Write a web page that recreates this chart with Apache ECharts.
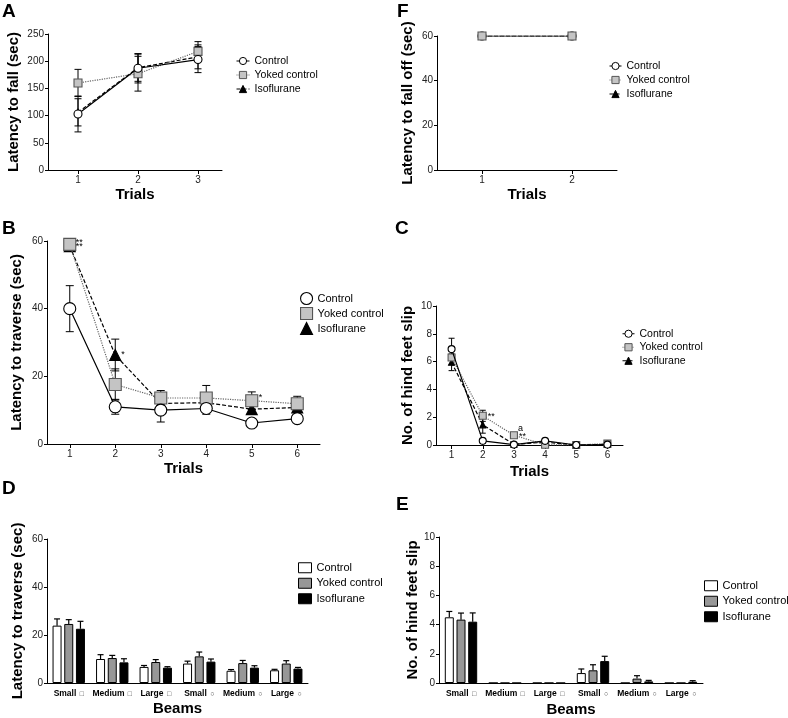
<!DOCTYPE html>
<html><head><meta charset="utf-8">
<script src="https://cdn.jsdelivr.net/npm/echarts@6/dist/echarts.min.js"></script>
<style>html,body{margin:0;padding:0;background:#fff}#c{width:788px;height:718px}</style>
</head><body><div id="c"></div>
<script>
const FONT = "'Liberation Sans', Arial, Helvetica, sans-serif";
const groups = ['Control', 'Yoked control', 'Isoflurane'];

// ---- Panel A : rotarod, latency to fall
const trialsA = [1, 2, 3];
const aControl = [103, 187, 203], aControlErr = [33, 27, 24];
const aYoked = [160, 177, 218], aYokedErr = [25, 32, 18];
const aIso = [106, 188, 208], aIsoErr = [25, 25, 22];

// ---- Panel F : latency to fall off
const trialsF = [1, 2];
const fControl = [60, 60], fYoked = [60, 60], fIso = [60, 60];

// ---- Panel B : latency to traverse
const trialsB = [1, 2, 3, 4, 5, 6];
const bControl = [40, 11, 10, 10.5, 6.2, 7.5], bControlErr = [6.8, 2.2, 3.5, 1.7, 0.6, 0.8];
const bYoked = [59, 17.6, 13.6, 13.6, 12.8, 11.9], bYokedErr = [0.5, 4.6, 2.2, 3.7, 2.6, 2.2];
const bIso = [58.5, 26.3, 12, 12.2, 10.3, 10.8], bIsoErr = [0.5, 4.7, 1, 1, 1.2, 1.5];
const bNoteTrial = [1, 1, 2, 5];
const bNoteValue = [59, 59, 26.3, 12.8];
const bNoteText = ['**', '**', '*', '*'];

// ---- Panel C : hind feet slips
const trialsC = [1, 2, 3, 4, 5, 6];
const cControl = [6.9, 0.3, 0.03, 0.3, 0, 0.03], cControlErr = [0.78, 0.15, 0, 0.1, 0, 0];
const cYoked = [6.3, 2.1, 0.7, 0.02, 0, 0.1], cYokedErr = [0.5, 0.4, 0.1, 0, 0, 0];
const cIso = [5.95, 1.45, 0.05, 0.2, 0, 0.05], cIsoErr = [0.6, 0.6, 0, 0, 0, 0];
const cNoteTrial = [2, 3, 3];
const cNoteValue = [2.1, 0.7, 0.7];
const cNoteText = ['**', 'a', '**'];

// ---- Panels D & E : beams
const beams = ['Small □', 'Medium □', 'Large □', 'Small ○', 'Medium ○', 'Large ○'];
const dControl = [23.9, 10, 6.7, 8.1, 5.1, 5.3], dControlErr = [2.8, 1.8, 0.6, 1, 0.5, 0.4];
const dYoked = [24.6, 10.4, 8.75, 11.1, 8.3, 8.1], dYokedErr = [1.8, 1.1, 1, 1.8, 1.1, 1.2];
const dIso = [22.6, 8.6, 6.4, 8.9, 6.4, 6], dIsoErr = [3.1, 1.5, 0.4, 1.1, 0.8, 0.5];
const eControl = [4.5, 0, 0, 0.68, 0, 0], eControlErr = [0.4, 0, 0, 0.28, 0, 0];
const eYoked = [4.34, 0, 0, 0.87, 0.3, 0], eYokedErr = [0.45, 0, 0, 0.38, 0.2, 0];
const eIso = [4.2, 0, 0, 1.5, 0.11, 0.09], eIsoErr = [0.6, 0, 0, 0.33, 0.07, 0.07];

// ---------------- styles
const lineStyles = {
  'Control': { symbol: 'circle', fill: '#fff', border: '#000', z: 4, line: { color: '#000', width: 1.2, type: 'solid' } },
  'Yoked control': { symbol: 'rect', fill: '#c4c4c4', border: '#555', z: 3, line: { color: '#666', width: 1.2, type: 'dotted' } },
  'Isoflurane': { symbol: 'triangle', fill: '#000', border: '#000', z: 2, line: { color: '#000', width: 1.2, type: [4, 2] } }
};
const barFill = { 'Control': '#fff', 'Yoked control': '#979797', 'Isoflurane': '#000' };

const grids = [
  { left: 48, top: 34, width: 174, height: 136 },   // A
  { left: 437, top: 36, width: 180, height: 134 },  // F
  { left: 47, top: 241, width: 273, height: 203 },  // B
  { left: 436, top: 306, width: 187, height: 139 }, // C
  { left: 47, top: 539, width: 261, height: 144 },  // D
  { left: 439, top: 537, width: 264, height: 146 }  // E
];

const tickLabel = { fontFamily: FONT, fontSize: 10, color: '#222' };
const axisNameStyle = { fontFamily: FONT, fontSize: 15, fontWeight: 'bold', color: '#000' };
const axLine = { show: true, lineStyle: { color: '#000', width: 1 } };
const axTick = { show: true, length: 3, lineStyle: { color: '#000', width: 1 } };

function valueX(gi, max, ticks, nameGap) {
  return {
    type: 'value', gridIndex: gi, min: 0.5, max: max,
    axisLine: axLine, splitLine: { show: false },
    axisTick: Object.assign({}, axTick, { length: 4, customValues: ticks }),
    axisLabel: Object.assign({}, tickLabel, { customValues: ticks, margin: 5 }),
    name: 'Trials', nameLocation: 'middle', nameGap: nameGap, nameTextStyle: axisNameStyle
  };
}
function catX(gi, nameGap) {
  return {
    type: 'category', gridIndex: gi, data: beams,
    axisLine: axLine, axisTick: { show: false },
    axisLabel: {
      interval: 0, margin: 5,
      formatter: v => { const p = v.split(' '); return '{b|' + p[0] + '} {s|' + p[1] + '}'; },
      rich: {
        b: { fontFamily: FONT, fontSize: 8.5, fontWeight: 'bold', color: '#000' },
        s: { fontFamily: FONT, fontSize: 7, color: '#444' }
      }
    },
    name: 'Beams', nameLocation: 'middle', nameGap: nameGap, nameTextStyle: axisNameStyle
  };
}
function valueY(gi, max, interval, name, nameGap) {
  return {
    type: 'value', gridIndex: gi, min: 0, max: max, interval: interval,
    axisLine: axLine, axisTick: axTick, splitLine: { show: false },
    axisLabel: Object.assign({}, tickLabel, { margin: 4 }),
    name: name, nameLocation: 'middle', nameGap: nameGap, nameTextStyle: axisNameStyle
  };
}

const series = [];

function addLinePanel(gi, tag, xs, vals, errs, sizes, capW, zOrder) {
  groups.forEach((g, k) => {
    if (!errs[k]) return;
    series.push({
      type: 'custom', xAxisIndex: gi, yAxisIndex: gi, z: 1, silent: true,
      encode: { x: 0, y: 1 },
      data: xs.map((x, i) => [x, vals[k][i], errs[k][i]]),
      renderItem: (params, api) => {
        const x = api.value(0), y = api.value(1), e = api.value(2);
        if (!e) return null;
        const t = api.coord([x, y + e]), b = api.coord([x, y - e]);
        const hw = capW / 2, st = { stroke: '#000', lineWidth: 1 };
        return {
          type: 'group', children: [
            { type: 'line', shape: { x1: t[0], y1: t[1], x2: b[0], y2: b[1] }, style: st },
            { type: 'line', shape: { x1: t[0] - hw, y1: t[1], x2: t[0] + hw, y2: t[1] }, style: st },
            { type: 'line', shape: { x1: b[0] - hw, y1: b[1], x2: b[0] + hw, y2: b[1] }, style: st }
          ]
        };
      }
    });
  });
  groups.forEach((g, k) => {
    const s = lineStyles[g];
    series.push({
      type: 'line', name: g + '|' + tag, xAxisIndex: gi, yAxisIndex: gi,
      z: zOrder ? zOrder[k] : s.z,
      data: xs.map((x, i) => [x, vals[k][i]]),
      symbol: s.symbol, symbolSize: sizes[k], showSymbol: true,
      itemStyle: { color: s.fill, borderColor: s.border, borderWidth: 1.1, opacity: 1 },
      lineStyle: s.line
    });
  });
}

function addBarPanel(gi, tag, vals, errs) {
  const bw = 9, gapRatio = 0.3;
  groups.forEach((g, k) => {
    series.push({
      type: 'bar', name: g + '|' + tag, xAxisIndex: gi, yAxisIndex: gi,
      barWidth: bw, barGap: (gapRatio * 100) + '%',
      data: vals[k],
      itemStyle: { color: barFill[g], borderColor: '#000', borderWidth: 1 }
    });
  });
  groups.forEach((g, k) => {
    const off = (k - 1) * bw * (1 + gapRatio);
    series.push({
      type: 'custom', xAxisIndex: gi, yAxisIndex: gi, z: 3, silent: true,
      encode: { x: 0, y: 1 },
      data: vals[k].map((v, i) => [i, v, errs[k][i]]),
      renderItem: (params, api) => {
        const i = api.value(0), y = api.value(1), e = api.value(2);
        if (!e) return null;
        const b = api.coord([i, y]), t = api.coord([i, y + e]);
        const x = b[0] + off, hw = 3, st = { stroke: '#000', lineWidth: 1.2 };
        return {
          type: 'group', children: [
            { type: 'line', shape: { x1: x, y1: b[1], x2: x, y2: t[1] }, style: st },
            { type: 'line', shape: { x1: x - hw, y1: t[1], x2: x + hw, y2: t[1] }, style: st }
          ]
        };
      }
    });
  });
}

function addNotes(gi, xs, ys, texts, offsets) {
  series.push({
    type: 'custom', xAxisIndex: gi, yAxisIndex: gi, z: 5, silent: true,
    encode: { x: 0, y: 1 },
    data: xs.map((x, i) => [x, ys[i]]),
    renderItem: (params, api) => {
      const p = api.coord([api.value(0), api.value(1)]);
      const o = offsets[params.dataIndex];
      return {
        type: 'text', x: p[0] + o[0], y: p[1] + o[1],
        style: { text: texts[params.dataIndex], fontFamily: FONT, fontSize: 9, fill: '#000', align: 'left', verticalAlign: 'middle' }
      };
    }
  });
}

addLinePanel(0, 'A', trialsA, [aControl, aYoked, aIso], [aControlErr, aYokedErr, aIsoErr], [8, 8, 6], 7);
addLinePanel(1, 'F', trialsF, [fControl, fYoked, fIso], [null, null, null], [8, 8, 6], 7, [2, 4, 3]);
addLinePanel(2, 'B', trialsB, [bControl, bYoked, bIso], [bControlErr, bYokedErr, bIsoErr], [12, 12, 11], 8);
addLinePanel(3, 'C', trialsC, [cControl, cYoked, cIso], [cControlErr, cYokedErr, cIsoErr], [7, 7, 6], 6);
addBarPanel(4, 'D', [dControl, dYoked, dIso], [dControlErr, dYokedErr, dIsoErr]);
addBarPanel(5, 'E', [eControl, eYoked, eIso], [eControlErr, eYokedErr, eIsoErr]);
addNotes(2, bNoteTrial, bNoteValue, bNoteText, [[6, -2], [6, 2], [6, -1], [7, -3]]);
addNotes(3, cNoteTrial, cNoteValue, cNoteText, [[5, 1], [4, -7], [5, 1]]);

function legend(tag, left, top, iw, ih, rowH, fontSize, mode) {
  const data = groups.map(g => {
    const item = { name: g + '|' + tag };
    if (mode === 'marker') {
      const s = lineStyles[g];
      item.icon = s.symbol;
      item.itemStyle = { color: s.fill, borderColor: s.border, borderWidth: 1.1 };
    } else if (mode === 'bar') {
      item.icon = 'rect';
      item.itemStyle = { color: barFill[g], borderColor: '#000', borderWidth: 1 };
    }
    return item;
  });
  return {
    orient: 'vertical', left: left, top: top, padding: 0, itemGap: 0,
    itemWidth: iw, itemHeight: ih, selectedMode: false,
    data: data,
    formatter: n => n.split('|')[0],
    itemStyle: { borderWidth: 1 },
    lineStyle: { width: 1 },
    textStyle: { fontFamily: FONT, fontSize: fontSize, color: '#000', lineHeight: rowH, padding: [0, 0, 0, 0] }
  };
}

const letterStyle = { fontFamily: FONT, fontSize: 19, fontWeight: 'bold', color: '#000' };
const letters = [['A', 2, 2], ['F', 397, 2], ['B', 2, 219], ['C', 395, 219], ['D', 2, 479], ['E', 396, 495]];

const option = {
  animation: false,
  backgroundColor: '#fff',
  title: letters.map(l => ({ text: l[0], left: l[1], top: l[2], padding: 0, textStyle: letterStyle })),
  grid: grids,
  xAxis: [
    valueX(0, 3.4, trialsA, 17),
    valueX(1, 2.5, trialsF, 17),
    valueX(2, 6.5, trialsB, 17),
    valueX(3, 6.5, trialsC, 19),
    catX(4, 18),
    catX(5, 19)
  ],
  yAxis: [
    valueY(0, 250, 50, 'Latency to fall (sec)', 27),
    valueY(1, 60, 20, 'Latency to fall off (sec)', 22),
    valueY(2, 60, 20, 'Latency to traverse (sec)', 23),
    valueY(3, 10, 2, 'No. of hind feet slip', 21),
    valueY(4, 60, 20, 'Latency to traverse (sec)', 22),
    valueY(5, 10, 2, 'No. of hind feet slip', 19)
  ],
  legend: [
    legend('A', 236, 54, 13, 9, 14, 10.5, 'line'),
    legend('F', 609, 59, 12, 9, 14, 10.5, 'line'),
    legend('B', 300, 291, 12, 12, 15, 11, 'marker'),
    legend('C', 622, 327, 12, 9, 13.5, 10.5, 'line'),
    legend('D', 298, 560, 13, 10, 15.5, 11, 'bar'),
    legend('E', 704, 578, 13, 10, 15.5, 11, 'bar')
  ],
  series: series
};

const chart = echarts.init(document.getElementById('c'), null, { renderer: 'canvas' });
chart.setOption(option);
</script>
</body></html>
